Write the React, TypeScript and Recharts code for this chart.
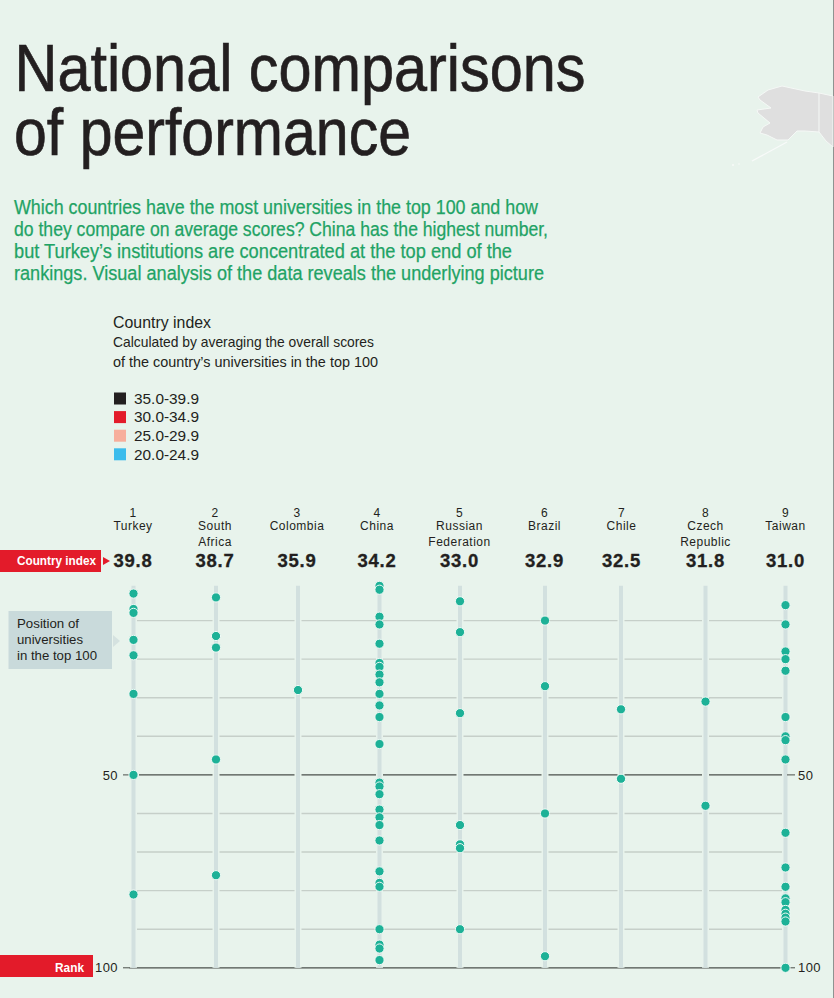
import React from "react";
import { ComposedChart, Scatter, XAxis, YAxis, ReferenceLine } from "recharts";

// ---- data ----
const countries = ["Turkey", "South Africa", "Colombia", "China", "Russian Federation", "Brazil", "Chile", "Czech Republic", "Taiwan"];
const countryLines = [["Turkey"], ["South", "Africa"], ["Colombia"], ["China"], ["Russian", "Federation"], ["Brazil"], ["Chile"], ["Czech", "Republic"], ["Taiwan"]];
const indexValues = ["39.8", "38.7", "35.9", "34.2", "33.0", "32.9", "32.5", "31.8", "31.0"];

const turkeyRanks = [3, 7, 8, 15, 19, 29, 50, 81];
const southAfricaRanks = [4, 14, 17, 46, 76];
const colombiaRanks = [28];
const chinaRanks = [1, 2, 9, 11, 16, 21, 22, 24, 26, 29, 32, 35, 42, 52, 53, 55, 59, 61, 63, 67, 75, 78, 79, 90, 94, 95, 98];
const russiaRanks = [5, 13, 34, 63, 68, 69, 90];
const brazilRanks = [10, 27, 60, 97];
const chileRanks = [33, 51];
const czechRanks = [31, 58];
const taiwanRanks = [6, 11, 18, 20, 23, 35, 40, 41, 46, 65, 74, 79, 82, 83, 85, 86, 87, 88, 100];
const allRanks = [turkeyRanks, southAfricaRanks, colombiaRanks, chinaRanks, russiaRanks, brazilRanks, chileRanks, czechRanks, taiwanRanks];

const lightGridRanks = [10, 20, 30, 40, 60, 70, 80, 90];
const rankTicks = [50, 100];
const legendItems = ["35.0-39.9", "30.0-34.9", "25.0-29.9", "20.0-24.9"];
const legendColors = ["#231f20", "#e31b2a", "#f7ae9c", "#3cbcec"];

const titleLines = ["National comparisons", "of performance"];
const introLines = [
  "Which countries have the most universities in the top 100 and how",
  "do they compare on average scores? China has the highest number,",
  "but Turkey\u2019s institutions are concentrated at the top end of the",
  "rankings. Visual analysis of the data reveals the underlying picture",
];

// ---- layout (column centres are the horizontal scale's input, on a page-wide domain) ----
const columnCentres = [133.5, 216, 298, 379.5, 460, 545, 621, 705.5, 785.5];
const headerShift = [-0.5, -1, -1, -2.5, -0.5, -0.5, 0.5, 0, 0];
const W = 834;
const H = 998;
const plotLeft = 129;
const plotRight = 787;
const BG = "#e8f3ec";
const NARROW = "'Liberation Sans Narrow','Liberation Sans',sans-serif";
const INK = "#231f20";
const DARK_LINE = "#4a4f4b";

const T = ({ x, y, w, size, fill = INK, weight, spacing, anchor, bold, children }: any) => (
  <text
    x={x}
    y={y}
    fontFamily={NARROW}
    fontSize={size}
    fill={fill}
    fontWeight={weight}
    letterSpacing={spacing}
    textAnchor={anchor}
    textLength={w}
    lengthAdjust={w ? "spacingAndGlyphs" : undefined}
    stroke={bold ? fill : undefined}
    strokeWidth={bold}
  >
    {children}
  </text>
);

const HeaderTick = ({ x, index }: any) => {
  const cx = x + headerShift[index];
  const lines = countryLines[index];
  return (
    <g>
      <T x={cx} y={517} size={12} anchor="middle" spacing={0.5}>{String(index + 1)}</T>
      {lines.map((l: string, i: number) => (
        <T key={l} x={cx} y={530 + i * 16} size={12} anchor="middle" spacing={0.5}>{l}</T>
      ))}
      <T x={cx} y={567} size={18.5} weight="bold" anchor="middle" spacing={0.8} bold={0.3}>{indexValues[index]}</T>
    </g>
  );
};

const Dot = ({ cx, cy }: any) => <circle cx={cx} cy={cy} r={4.6} fill="#1db197" stroke="#f0faf6" strokeWidth={1} />;

const Backdrop = () => (
  <svg width={W} height={H} style={{ position: "absolute", left: 0, top: 0 }}>
    <rect width={W} height={H} fill={BG} />
    <rect x={833} width={1} height={H} fill="#8f9391" />
    {/* Alaska */}
    <path
      d="M782 86 L805 91 L819 93 L833 96 L833 147 L826 141 L819 132 L805 131 L797 131 L788 140 L777 140 L767 135 L760 133 L763 127 L770 123 L758 113 L757 110 L771 108 L760 100 L758 97 L768 90 Z"
      fill="#dfdfdf"
      stroke="#f5f8f6"
      strokeWidth={1}
    />
    <line x1={819} y1={93} x2={819} y2={132} stroke="#f5f8f6" strokeWidth={1} />
    <line x1={787} y1={142} x2={752} y2={161} stroke="#f8faf9" strokeWidth={1.2} />
    <circle cx={733} cy={165} r={1} fill="#f8faf9" />
    <circle cx={739} cy={164} r={0.8} fill="#f8faf9" />

    <text fontFamily={NARROW} fontSize={67} fill={INK} stroke={INK} strokeWidth={0.7}>
      <tspan x={14.5} y={91} textLength={571} lengthAdjust="spacingAndGlyphs">{titleLines[0]}</tspan>
      <tspan x={14} y={155} textLength={397} lengthAdjust="spacingAndGlyphs">{titleLines[1]}</tspan>
    </text>

    <T x={14} y={214} size={20} w={524} fill="#1fa365" bold={0.25}>{introLines[0]}</T>
    <T x={14} y={236} size={20} w={534} fill="#1fa365" bold={0.25}>{introLines[1]}</T>
    <T x={14} y={258} size={20} w={498} fill="#1fa365" bold={0.25}>{introLines[2]}</T>
    <T x={14} y={280} size={20} w={530} fill="#1fa365" bold={0.25}>{introLines[3]}</T>

    <T x={113} y={328} size={17} w={98}>Country index</T>
    <T x={113} y={347} size={14.5} w={261}>Calculated by averaging the overall scores</T>
    <T x={113} y={367} size={14.5} w={265}>of the country’s universities in the top 100</T>
    {legendItems.map((l, i) => (
      <g key={l}>
        <rect x={114} y={392.5 + i * 18.6} width={12} height={12} fill={legendColors[i]} />
        <T x={134} y={403.5 + i * 18.9} size={15.5} w={65}>{l}</T>
      </g>
    ))}

    <rect x={0} y={550} width={101} height={22} fill="#e31b2a" />
    <T x={17} y={565} size={13} weight="bold" fill="#fff" w={79}>Country index</T>
    <path d="M103 557 L110 561 L103 565 Z" fill="#e31b2a" />

    <rect x={0} y={955} width={93} height={22} fill="#e31b2a" />
    <T x={55} y={972} size={13} weight="bold" fill="#fff" w={29}>Rank</T>

    <rect x={8.5} y={611} width={103.5} height={58} fill="#c9dadb" />
    <path d="M113 635 L120 641 L113 647 Z" fill="#d5e2e0" />
    <T x={17} y={628} size={13} w={62}>Position of</T>
    <T x={17} y={644} size={13} w={66}>universities</T>
    <T x={17} y={660} size={13} w={80}>in the top 100</T>
  </svg>
);

const axisTick = { fontFamily: NARROW, fontSize: 13, fill: INK, letterSpacing: 0.4 };

export default function App() {
  return (
    <div style={{ position: "absolute", left: 0, top: 0, width: W, height: H, overflow: "hidden" }}>
      <Backdrop />
      <div style={{ position: "absolute", left: 0, top: 0 }}>
        <ComposedChart width={W} height={H} margin={{ top: 552, right: 0, bottom: 30.2, left: 0 }}>
          <XAxis
            xAxisId="x"
            orientation="top"
            type="number"
            dataKey="x"
            domain={[plotLeft, plotRight]}
            ticks={columnCentres}
            interval={0}
            height={30}
            axisLine={false}
            tickLine={false}
            tick={<HeaderTick />}
          />
          <YAxis
            yAxisId="left"
            type="number"
            dataKey="rank"
            domain={[0, 100]}
            reversed
            ticks={rankTicks}
            width={plotLeft}
            axisLine={false}
            tickLine={{ stroke: DARK_LINE }}
            tickSize={6}
            tickMargin={5}
            tick={axisTick}
          />
          <YAxis
            yAxisId="right"
            orientation="right"
            type="number"
            dataKey="rank"
            domain={[0, 100]}
            reversed
            ticks={rankTicks}
            width={W - plotRight}
            axisLine={false}
            tickLine={{ stroke: DARK_LINE }}
            tickSize={8}
            tickMargin={3}
            tick={axisTick}
          />
          {lightGridRanks.map((r) => (
            <ReferenceLine
              key={`g${r}`}
              xAxisId="x"
              yAxisId="left"
              segment={[{ x: 135, y: r }, { x: 784, y: r }]}
              stroke="#c6cfc9"
              strokeWidth={1.4}
            />
          ))}
          <ReferenceLine
            xAxisId="x"
            yAxisId="left"
            segment={[{ x: 139, y: rankTicks[0] }, { x: 784, y: rankTicks[0] }]}
            stroke={DARK_LINE}
            strokeWidth={1.3}
          />
          <ReferenceLine
            xAxisId="x"
            yAxisId="left"
            segment={[{ x: plotLeft, y: rankTicks[1] }, { x: 784, y: rankTicks[1] }]}
            stroke={DARK_LINE}
            strokeWidth={1.3}
          />
          {columnCentres.map((c, i) => (
            <ReferenceLine
              key={`h${i}`}
              xAxisId="x"
              yAxisId="left"
              segment={[{ x: c, y: 1 }, { x: c, y: 100 }]}
              stroke={BG}
              strokeWidth={7}
            />
          ))}
          {columnCentres.map((c, i) => (
            <ReferenceLine
              key={`c${i}`}
              xAxisId="x"
              yAxisId="left"
              segment={[{ x: c, y: 1 }, { x: c, y: 100 }]}
              stroke="#d2e0df"
              strokeWidth={4}
            />
          ))}
          {allRanks.map((ranks, i) => (
            <Scatter
              key={countries[i]}
              name={countries[i]}
              xAxisId="x"
              yAxisId={i === allRanks.length - 1 ? "right" : "left"}
              data={ranks.map((rank) => ({ x: columnCentres[i], rank }))}
              dataKey="rank"
              shape={<Dot />}
              isAnimationActive={false}
            />
          ))}
        </ComposedChart>
      </div>
    </div>
  );
}
